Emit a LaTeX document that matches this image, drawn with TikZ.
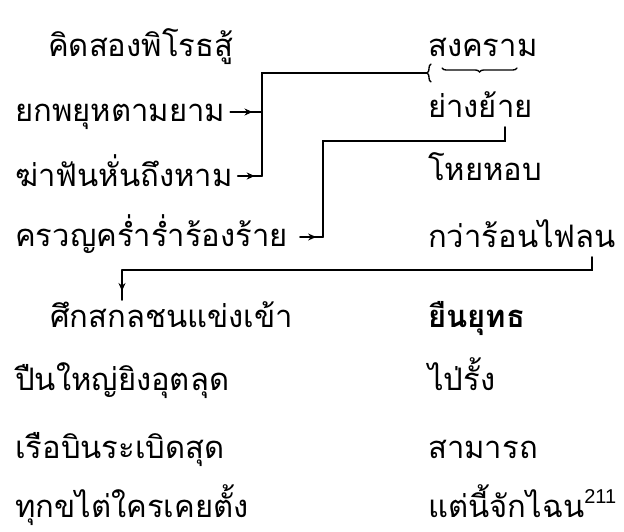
\documentclass[tikz,border=0pt]{standalone}
\usepackage{fontspec}
\newfontfamily\thaifont[Script=Thai]{Loma}
\newfontfamily\numfont{Liberation Sans}
\usetikzlibrary{positioning, arrows.meta, decorations.pathreplacing, decorations.markings}
\tikzset{
verse/.style={anchor=base west, inner sep=0pt, font=\thaifont\fontsize{31}{31}\selectfont}, % one line of the poem
link/.style={line width=1.8pt, line cap=round}, % the rhyme connectors
midtip/.style={decoration={markings, mark=at position 0.7 with {\arrow{Stealth[length=8pt, width=7pt]}}}, postaction={decorate}}, % arrow head part way along
curly/.style={link, line width=1.4pt, decorate, decoration={brace, amplitude=4pt}}, % the brace marks
}

\begin{document}
\begin{tikzpicture}[x=1pt, y=-1pt]
    \useasboundingbox (0,0) rectangle (624,532);
    % left column
    \node[verse] (a1) at (48,57) {คิดสองพิโรธสู้};
    \node[verse] (a2) at (15,122) {ยกพยุหตามยาม};
    \node[verse] (a3) at (15,186) {ฆ่าฟันหั่นถึงหาม};
    \node[verse] (a4) at (15,246) {ครวญคร่ำร่ำร้องร้าย};
    \node[verse] (a5) at (50,327) {ศึกสกลชนแข่งเข้า};
    \node[verse] (a6) at (15,390) {ปืนใหญ่ยิงอุตลุด};
    \node[verse] (a7) at (15,458) {เรือบินระเบิดสุด};
    \node[verse] (a8) at (15,517) {ทุกขไต่ใครเคยตั้ง};
    % right column
    \node[verse] (b1) at (428,57) {สงคราม};
    \node[verse] (b2) at (428,118) {ย่างย้าย};
    \node[verse] (b3) at (428,180) {โหยหอบ};
    \node[verse] (b4) at (428,247) {กว่าร้อนไฟลน};
    \node[verse, font=\thaifont\bfseries\fontsize{31}{31}\selectfont] (b5) at (428,327) {ยืนยุทธ};
    \node[verse] (b6) at (428,390) {ไป่รั้ง};
    \node[verse] (b7) at (428,458) {สามารถ};
    \node[verse] (b8) at (428,517) {แต่นี้จักไฉน\raisebox{14pt}{\numfont\fontsize{20}{20}\selectfont 211}};
    % rhyme links
    \coordinate (bar) at (262,73);
    \coordinate (cue) at (427,73);
    \coordinate (m2) at ([xshift=5pt, yshift=10pt]a2.base east);
    \coordinate (m3) at ([xshift=5pt, yshift=10pt]a3.base east);
    \coordinate (m4) at ([xshift=12pt, yshift=9pt]a4.base east);
    \coordinate (hook) at (323,141);
    \coordinate (hookend) at (505,127);
    \coordinate (drop) at (592,257);
    \coordinate (turn) at (122,270);
    \coordinate (land) at (122,300);
    \draw[link, midtip] (m2) -- (m2 -| bar);
    \draw[link, midtip] (m3) -- (m3 -| bar);
    \draw[link] (m3 -| bar) -- (bar) -- (cue);
    \draw[curly] (431,82) -- (431,64);
    \draw[curly, decoration={mirror}] (442,68) -- (517,68);
    \draw[link, midtip] (m4) -- (m4 -| hook);
    \draw[link] (m4 -| hook) |- (hookend |- hook) -- (hookend);
    \draw[link] (drop) |- (turn);
    \draw[link, midtip] (turn) -- (land);
\end{tikzpicture}
\end{document}
